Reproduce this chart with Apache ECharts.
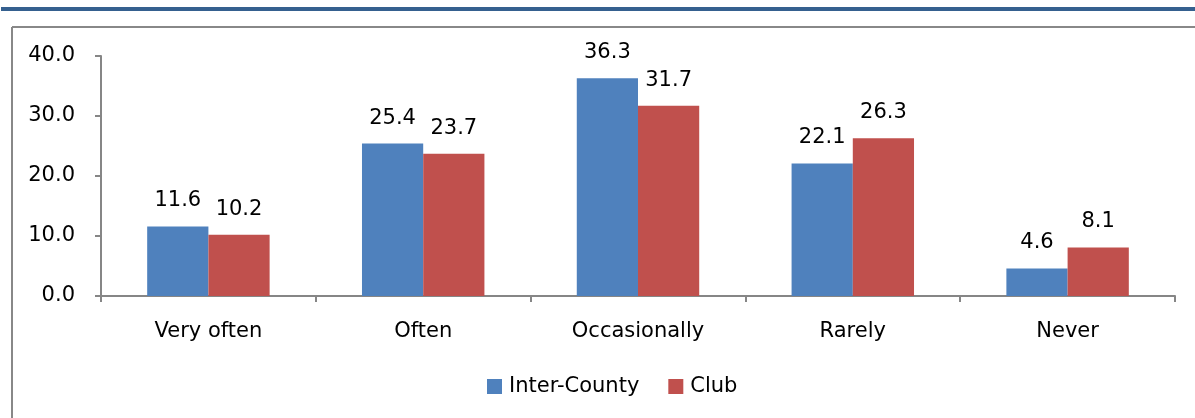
<!DOCTYPE html>
<html>
<head>
<meta charset="utf-8">
<script src="https://cdn.jsdelivr.net/npm/echarts@6/dist/echarts.min.js"></script>
<style>
html,body{margin:0;padding:0;background:#fff;}
#chart{width:1195px;height:418px;}
</style>
</head>
<body>
<div id="chart"></div>
<script>
const categories = ['Very often', 'Often', 'Occasionally', 'Rarely', 'Never'];
const interCounty = [11.6, 25.4, 36.3, 22.1, 4.6];
const club = [10.2, 23.7, 31.7, 26.3, 8.1];
const seriesNames = ['Inter-County', 'Club'];

const FONT = 'DejaVu Sans';
const FS = 21;
const chart = echarts.init(document.getElementById('chart'), null, {renderer: 'canvas'});
const labelStyle = {
  show: true, position: 'top', distance: 15,
  fontFamily: FONT, fontSize: FS, color: '#000',
  formatter: p => p.value.toFixed(1)
};
chart.setOption({
  animation: false,
  backgroundColor: '#fff',
  textStyle: {fontFamily: FONT},
  graphic: [
    {type: 'rect', shape: {x: 1, y: 7, width: 1194, height: 4}, style: {fill: '#35608F'}, silent: true},
    {type: 'line', shape: {x1: 12, y1: 27, x2: 1195, y2: 27}, style: {stroke: '#888', lineWidth: 2}, silent: true},
    {type: 'line', shape: {x1: 12, y1: 27, x2: 12, y2: 418}, style: {stroke: '#888', lineWidth: 2}, silent: true}
  ],
  grid: {left: 101, right: 20, top: 56, bottom: 122, containLabel: false},
  legend: {
    data: seriesNames,
    left: 487, top: 376, padding: 0,
    itemWidth: 15, itemHeight: 15, itemGap: 29,
    icon: 'rect',
    textStyle: {fontFamily: FONT, fontSize: FS, color: '#000', padding: [0, 0, 0, 2]}
  },
  xAxis: {
    type: 'category',
    data: categories,
    axisLine: {lineStyle: {color: '#868686', width: 2}},
    axisTick: {show: true, length: 6, lineStyle: {color: '#868686', width: 2}},
    axisLabel: {fontFamily: FONT, fontSize: FS, color: '#000', margin: 25}
  },
  yAxis: {
    type: 'value',
    min: 0, max: 40, interval: 10,
    splitLine: {show: false},
    axisLine: {show: true, lineStyle: {color: '#868686', width: 2}},
    axisTick: {show: true, length: 6, lineStyle: {color: '#868686', width: 2}},
    axisLabel: {fontFamily: FONT, fontSize: FS, color: '#000', margin: 26, formatter: v => v.toFixed(1)}
  },
  series: [
    {name: seriesNames[0], type: 'bar', data: interCounty, barGap: '0%', barCategoryGap: '43%',
     itemStyle: {color: '#4F81BD'}, label: labelStyle},
    {name: seriesNames[1], type: 'bar', data: club, barGap: '0%', barCategoryGap: '43%',
     itemStyle: {color: '#C0504D'}, label: labelStyle}
  ]
});
</script>
</body>
</html>
